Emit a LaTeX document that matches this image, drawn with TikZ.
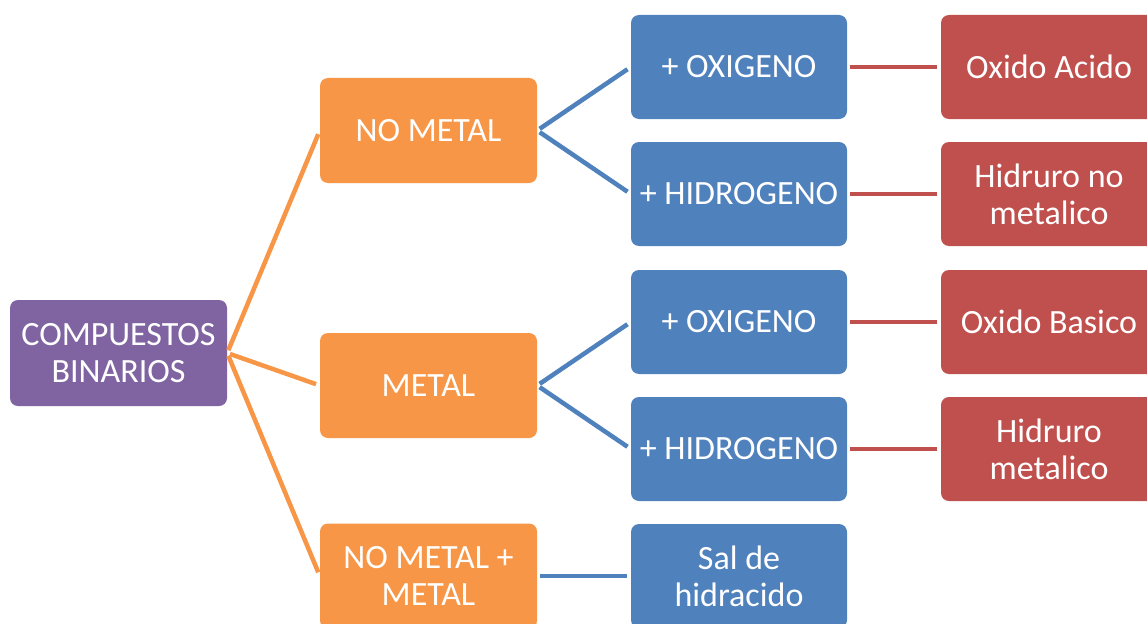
\documentclass[tikz,border=0pt]{standalone}
\usepackage{fontspec}
\setmainfont{Carlito}
\definecolor{cpurple}{HTML}{8064A2}
\definecolor{corange}{HTML}{F79646}
\definecolor{cblue}{HTML}{4F81BD}
\definecolor{cred}{HTML}{C0504D}
\begin{document}
\begin{tikzpicture}[x=1pt,y=-1pt,
  box/.style={rounded corners=8pt, minimum width=216pt, minimum height=104pt, inner sep=0pt,
     text=white, align=center, font=\fontsize{34}{37}\selectfont},
  pbox/.style={box, fill=cpurple, minimum width=217pt, minimum height=106pt},
  obox/.style={box, fill=corange, minimum width=217pt, minimum height=105pt},
  bbox/.style={box, fill=cblue},
  rbox/.style={box, fill=cred},
  link/.style={line width=4.5pt, shorten <=3pt, shorten >=4pt}]
\clip (0,0) rectangle (1147,623);
\fill[white] (0,0) rectangle (1147,623);
\node[pbox] (p) at (118.5,353) {COMPUESTOS\\BINARIOS};
\node[obox] (o1) at (428.5,130.5) {NO METAL};
\node[obox] (o2) at (428.5,385.5) {METAL};
\node[obox] (o3) at (428.5,576) {NO METAL +\\METAL};
\node[bbox] (b1) at (739,67) {+ OXIGENO};
\node[bbox] (b2) at (739,194) {+ HIDROGENO};
\node[bbox] (b3) at (739,322) {+ OXIGENO};
\node[bbox] (b4) at (739,449) {+ HIDROGENO};
\node[bbox] (b5) at (739,576) {Sal de\\hidracido};
\node[rbox] (r1) at (1049,67) {Oxido Acido};
\node[rbox] (r2) at (1049,194) {Hidruro no\\metalico};
\node[rbox] (r3) at (1049,322) {Oxido Basico};
\node[rbox] (r4) at (1049,449) {Hidruro\\metalico};
\begin{scope}[link, draw=corange]
\draw (p.east) -- (o1.west);
\draw (p.east) -- (o2.west);
\draw (p.east) -- (o3.west);
\end{scope}
\begin{scope}[link, draw=cblue]
\draw (o1.east) -- (b1.west);
\draw (o1.east) -- (b2.west);
\draw (o2.east) -- (b3.west);
\draw (o2.east) -- (b4.west);
\draw (o3.east) -- (b5.west);
\end{scope}
\begin{scope}[link, draw=cred]
\draw (b1.east) -- (r1.west);
\draw (b2.east) -- (r2.west);
\draw (b3.east) -- (r3.west);
\draw (b4.east) -- (r4.west);
\end{scope}
\end{tikzpicture}
\end{document}
